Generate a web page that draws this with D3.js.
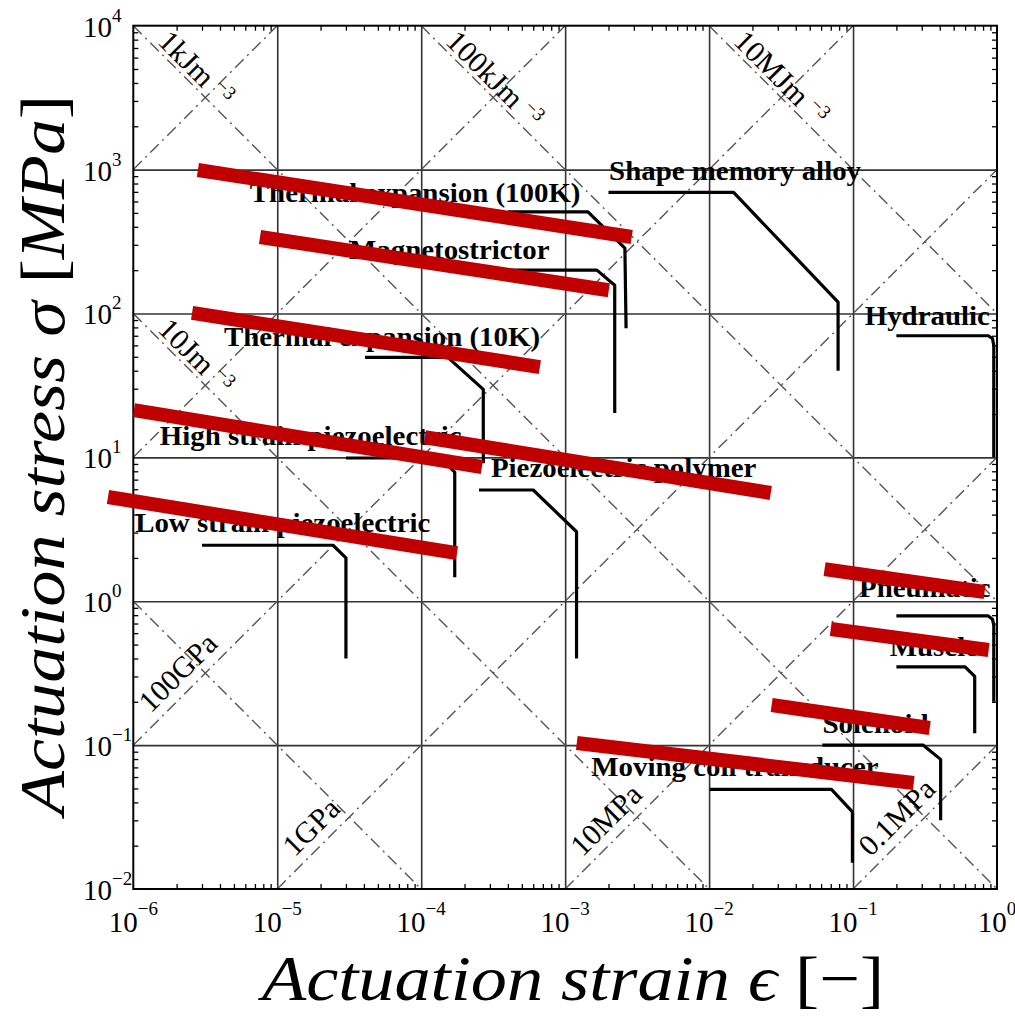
<!DOCTYPE html>
<html>
<head>
<meta charset="utf-8">
<script src="https://cdn.jsdelivr.net/npm/d3@7"></script>
<style>
  html, body { margin: 0; padding: 0; background: #fff; }
  svg { display: block; }
</style>
</head>
<body>
<div class="svg-container"></div>
<script>
'use strict';

// axis decades and their exponent labels
var strainDecades = [1e-6, 1e-5, 1e-4, 1e-3, 1e-2, 1e-1, 1];
var strainExponents = ['\u22126', '\u22125', '\u22124', '\u22123', '\u22122', '\u22121', '0'];
var stressDecades = [1e-2, 1e-1, 1, 1e1, 1e2, 1e3, 1e4];
var stressExponents = ['\u22122', '\u22121', '0', '1', '2', '3', '4'];

// actuator envelopes: [strain, stress (MPa)]
var actuatorNames = [
    'Thermal expansion (100K)', 'Magnetostrictor', 'Shape memory alloy', 'Hydraulic',
    'Thermal expansion (10K)', 'High strain piezoelectric', 'Piezoelectric polymer',
    'Low strain piezoelectric', 'Pneumatic', 'Muscle', 'Solenoid', 'Moving coil transducer'
];
var actuatorCurves = [
    [[4.0e-4, 509], [1.44e-3, 509], [2.6e-3, 285], [2.65e-3, 79]],
    [[4.0e-4, 200], [1.66e-3, 200], [2.21e-3, 157], [2.21e-3, 20.3]],
    [[2.0e-3, 694], [1.48e-2, 694], [0.0787, 120], [0.0787, 40]],
    [[0.2, 70], [0.87, 70], [0.93, 67], [0.95, 60], [0.95, 10]],
    [[4.07e-5, 49.5], [1.53e-4, 49.5], [2.7e-4, 29.7], [2.7e-4, 9.1]],
    [[3.0e-5, 9.9], [1.35e-4, 9.9], [1.71e-4, 7.9], [1.71e-4, 1.47]],
    [[2.52e-4, 5.93], [6.0e-4, 5.93], [1.2e-3, 3.04], [1.2e-3, 0.40]],
    [[3.0e-6, 2.45], [2.44e-5, 2.45], [3.0e-5, 2.0], [3.0e-5, 0.40]],
    [[0.2, 0.79], [0.87, 0.79], [0.93, 0.75], [0.95, 0.68], [0.95, 0.2]],
    [[0.2, 0.35], [0.6, 0.35], [0.7, 0.30], [0.7, 0.121]],
    [[0.0612, 0.1], [0.306, 0.1], [0.406, 0.0796], [0.406, 0.0301]],
    [[0.0101, 0.0493], [0.0708, 0.0493], [0.099, 0.0344], [0.099, 0.0152]]
];
var labelStrain = [6.45e-6, 3.15e-5, 2.02e-3, 0.1205, 4.26e-6, 1.53e-6, 3.05e-4, 1.03e-6, 0.110, 0.18, 0.0614, 1.52e-3];
var labelStress = [597, 241, 845, 83, 59.3, 12.2, 7.33, 3.04, 1.07, 0.416, 0.121, 0.061];

// constant energy density (stress*strain, MPa) and modulus (stress/strain, MPa) guides
var energyLevels = [1e-6, 1e-4, 1e-2, 1, 1e2];
var energyLabels = ['', '10Jm', '1kJm', '100kJm', '10MJm'];
var modulusLevels = [1e9, 1e7, 1e5, 1e3, 1e1, 1e-1];
var modulusLabels = ['', '', '100GPa', '1GPa', '10MPa', '0.1MPa'];

// redaction bars over the labels: [strain, stress] endpoints
var redBars = [
    [[2.81e-6, 993], [2.90e-3, 340]],
    [[7.59e-6, 340], [2.01e-3, 145]],
    [[2.56e-6, 101], [6.67e-4, 42.4]],
    [[1.01e-6, 21.3], [2.64e-4, 8.57]],
    [[1.06e-4, 13.8], [2.68e-2, 5.65]],
    [[6.67e-7, 5.30], [1.77e-4, 2.16]],
    [[0.0634, 1.67], [0.82, 1.16]],
    [[0.070, 0.641], [0.875, 0.458]],
    [[0.0272, 0.190], [0.341, 0.1315]],
    [[1.205e-3, 0.1035], [0.264, 0.0546]]
];

var serif = "'Liberation Serif', 'Times New Roman', serif";

var x = d3.scaleLog().domain([1e-6, 1]).range([133.3, 997]);
var y = d3.scaleLog().domain([1e-2, 1e4]).range([889, 25.7]);

var svg = d3.select('.svg-container').append('svg')
    .attr('width', 1015)
    .attr('height', 1020);

svg.append('defs').append('clipPath')
    .attr('id', 'plotClip')
  .append('rect')
    .attr('x', x.range()[0])
    .attr('y', y.range()[1])
    .attr('width', x.range()[1] - x.range()[0])
    .attr('height', y.range()[0] - y.range()[1]);

function minorTicks(decades){
    var out = [];
    decades.slice(0, -1).forEach(function(d){
        for (var k = 2; k < 10; k++) out.push(d * k);
    });
    return out;
}

// grid
var gridGroup = svg.append('g').attr('class', 'grid');
gridGroup.append('g')
    .attr('transform', 'translate(0,' + y.range()[0] + ')')
    .call(d3.axisBottom(x).tickValues(strainDecades.slice(1, -1)).tickSize(-(y.range()[0] - y.range()[1])).tickFormat(''));
gridGroup.append('g')
    .attr('transform', 'translate(' + x.range()[0] + ',0)')
    .call(d3.axisLeft(y).tickValues(stressDecades.slice(1, -1)).tickSize(-(x.range()[1] - x.range()[0])).tickFormat(''));
gridGroup.selectAll('.domain').remove();
gridGroup.selectAll('line').attr('stroke', '#333').attr('stroke-width', 1.6);

// diagonal guides
var guides = svg.append('g').attr('clip-path', 'url(#plotClip)');
var line = d3.line()
    .x(function(d){ return x(d[0]); })
    .y(function(d){ return y(d[1]); });

function energyEnds(c){
    var e1 = Math.max(1e-6, c / 1e4), e2 = Math.min(1, c / 1e-2);
    return [[e1, c / e1], [e2, c / e2]];
}
function modulusEnds(k){
    var e1 = Math.max(1e-6, 1e-2 / k), e2 = Math.min(1, 1e4 / k);
    return [[e1, k * e1], [e2, k * e2]];
}

guides.selectAll('.energy')
    .data(energyLevels)
  .enter().append('path')
    .attr('class', 'energy')
    .attr('d', function(c){ return line(energyEnds(c)); });
guides.selectAll('.modulus')
    .data(modulusLevels)
  .enter().append('path')
    .attr('class', 'modulus')
    .attr('d', function(k){ return line(modulusEnds(k)); });
guides.selectAll('path')
    .attr('fill', 'none')
    .attr('stroke', '#555')
    .attr('stroke-width', 1.4)
    .attr('stroke-dasharray', '12,5,2,5');

// guide labels
var guideLabels = svg.append('g')
    .style('font-family', serif)
    .style('font-size', '30px')
    .attr('fill', '#000');

energyLevels.forEach(function(c, i){
    if (!energyLabels[i]) return;
    var e = energyEnds(c)[0][0] * Math.pow(10, 0.14);
    var px = x(e) + 3, py = y(c / e) - 3;
    var t = guideLabels.append('text')
        .attr('transform', 'translate(' + px + ',' + py + ') rotate(45)');
    t.append('tspan').text(energyLabels[i]);
    t.append('tspan').attr('dx', 7).attr('dy', -10).style('font-size', '19px').text('\u22123');
});

modulusLevels.forEach(function(k, i){
    if (!modulusLabels[i]) return;
    var e = modulusEnds(k)[0][0] * Math.pow(10, 0.17);
    var px = x(e) - 7, py = y(k * e) - 7;
    guideLabels.append('text')
        .attr('transform', 'translate(' + px + ',' + py + ') rotate(-45)')
        .text(modulusLabels[i]);
});

// minor ticks on all four sides, pointing inward
var tickGroup = svg.append('g');
tickGroup.append('g')
    .attr('transform', 'translate(0,' + y.range()[0] + ')')
    .call(d3.axisBottom(x).tickValues(minorTicks(strainDecades)).tickSize(-5).tickFormat(''));
tickGroup.append('g')
    .attr('transform', 'translate(0,' + y.range()[1] + ')')
    .call(d3.axisTop(x).tickValues(minorTicks(strainDecades)).tickSize(-5).tickFormat(''));
tickGroup.append('g')
    .attr('transform', 'translate(' + x.range()[0] + ',0)')
    .call(d3.axisLeft(y).tickValues(minorTicks(stressDecades)).tickSize(-5).tickFormat(''));
tickGroup.append('g')
    .attr('transform', 'translate(' + x.range()[1] + ',0)')
    .call(d3.axisRight(y).tickValues(minorTicks(stressDecades)).tickSize(-5).tickFormat(''));
tickGroup.selectAll('.domain').remove();
tickGroup.selectAll('line').attr('stroke', '#000').attr('stroke-width', 1.3);

// frame
svg.append('rect')
    .attr('x', x.range()[0])
    .attr('y', y.range()[1])
    .attr('width', x.range()[1] - x.range()[0])
    .attr('height', y.range()[0] - y.range()[1])
    .attr('fill', 'none')
    .attr('stroke', '#000')
    .attr('stroke-width', 2);

// tick labels
var tickLabels = svg.append('g')
    .style('font-family', serif)
    .style('font-size', '29px')
    .attr('fill', '#000');

strainDecades.forEach(function(d, i){
    var t = tickLabels.append('text')
        .attr('x', x(d))
        .attr('y', y.range()[0] + 43)
        .attr('text-anchor', 'middle');
    t.append('tspan').text('10');
    t.append('tspan').attr('dy', -17).style('font-size', '19px').text(strainExponents[i]);
});

stressDecades.forEach(function(d, i){
    var t = tickLabels.append('text')
        .attr('x', 83)
        .attr('y', y(d) + 11);
    t.append('tspan').text('10');
    t.append('tspan').attr('dy', -15).style('font-size', '19px').text(stressExponents[i]);
});

// actuator envelopes
svg.append('g').selectAll('path')
    .data(actuatorCurves)
  .enter().append('path')
    .attr('d', line)
    .attr('fill', 'none')
    .attr('stroke', '#000')
    .attr('stroke-width', 3.2)
    .attr('stroke-linejoin', 'round');

svg.append('g').selectAll('text')
    .data(actuatorNames)
  .enter().append('text')
    .attr('x', function(d, i){ return x(labelStrain[i]); })
    .attr('y', function(d, i){ return y(labelStress[i]); })
    .style('font-family', serif)
    .style('font-size', '27px')
    .style('font-weight', 'bold')
    .attr('fill', '#000')
    .text(function(d){ return d; })
    .each(function(){
        var w = this.getComputedTextLength();
        d3.select(this).attr('textLength', w * 1.07).attr('lengthAdjust', 'spacingAndGlyphs');
    });

// redaction bars
svg.append('g').selectAll('path')
    .data(redBars)
  .enter().append('path')
    .attr('d', line)
    .attr('stroke', '#c00000')
    .attr('stroke-width', 14)
    .attr('stroke-linecap', 'butt');

// axis titles
var xTitle = svg.append('text')
    .attr('x', 262)
    .attr('y', 1000)
    .attr('textLength', 622)
    .attr('lengthAdjust', 'spacingAndGlyphs')
    .style('font-family', serif)
    .style('font-size', '64px')
    .attr('fill', '#000');
xTitle.append('tspan').style('font-style', 'italic').text('Actuation strain \u03F5 ');
xTitle.append('tspan').text('[\u2212]');

var yTitle = svg.append('text')
    .attr('transform', 'translate(64,815) rotate(-90)')
    .attr('textLength', 720)
    .attr('lengthAdjust', 'spacingAndGlyphs')
    .style('font-family', serif)
    .style('font-size', '64px')
    .attr('fill', '#000');
yTitle.append('tspan').style('font-style', 'italic').text('Actuation stress \u03C3 ');
yTitle.append('tspan').text('[');
yTitle.append('tspan').style('font-style', 'italic').text('MPa');
yTitle.append('tspan').text(']');
</script>
</body>
</html>
